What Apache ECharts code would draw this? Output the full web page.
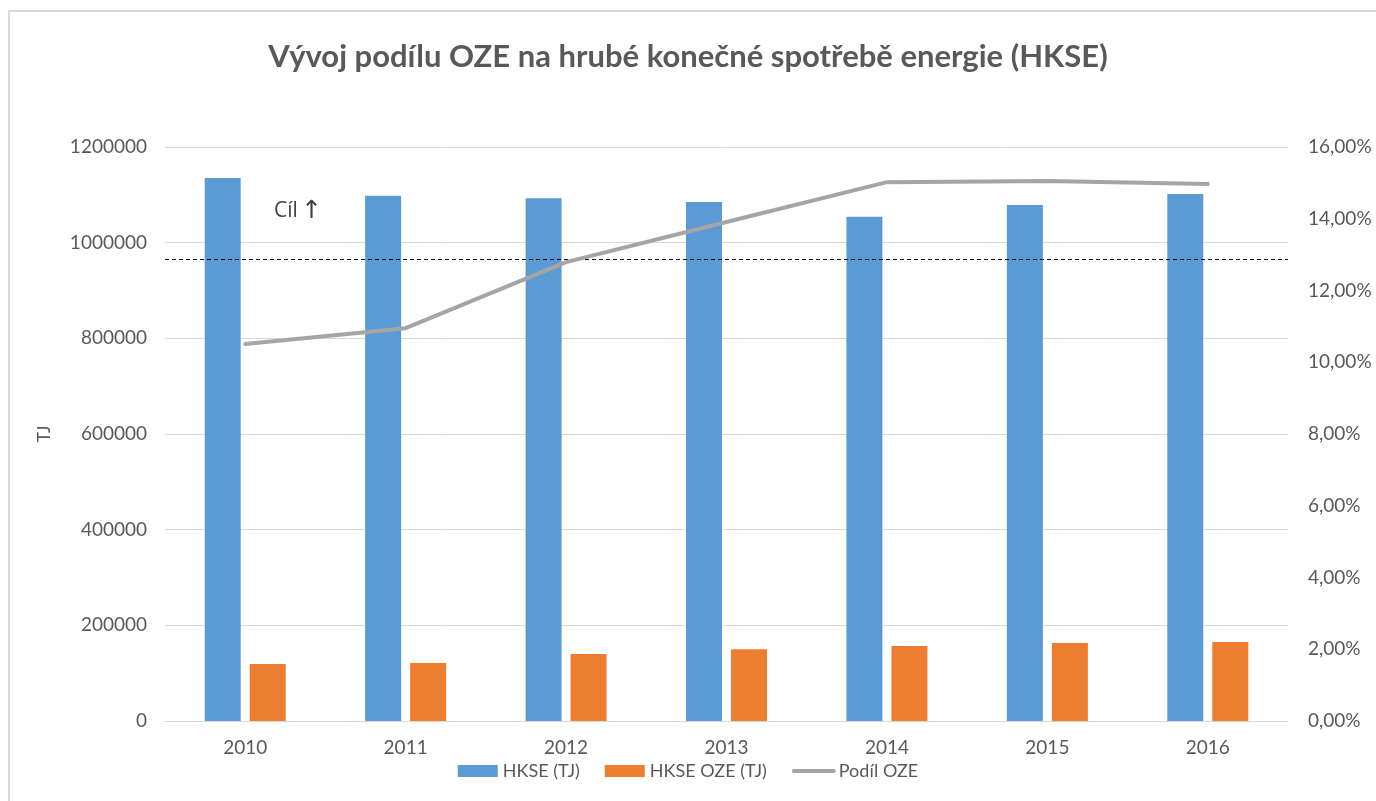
<!DOCTYPE html>
<html><head><meta charset="utf-8">
<script src="https://cdn.jsdelivr.net/npm/echarts@6/dist/echarts.min.js"></script>
<style>
html,body{margin:0;padding:0;background:#fff;}
#frame{position:absolute;left:8px;top:10px;width:1400px;height:830px;border:2px solid #d9d9d9;box-sizing:border-box;pointer-events:none;}
#c{position:absolute;left:0;top:0;width:1376px;height:801px;}
</style></head>
<body>
<div id="c"></div>
<div id="frame"></div>
<script>
var categories = ['2010','2011','2012','2013','2014','2015','2016'];
var hkse = [1135000, 1098000, 1093000, 1085000, 1054000, 1079000, 1102000];
var hkseOze = [119000, 121000, 140000, 150000, 157000, 163000, 165000];
var podilOze = [10.51, 10.95, 12.79, 13.91, 15.02, 15.05, 14.97];
var targetValue = [12.88];
var leftTicks = {min: 0, max: 1200000, interval: 200000};
var rightTicks = {min: 0, max: 16, interval: 2};

var txt = '#595959';
var chart = echarts.init(document.getElementById('c'), null, {renderer: 'canvas'});
chart.setOption({
  animation: false,
  backgroundColor: '#fff',
  textStyle: {fontFamily: 'Lato'},
  title: {
    text: 'Vývoj podílu OZE na hrubé konečné spotřebě energie (HKSE)',
    left: 'center', top: 36,
    textStyle: {fontFamily: 'Lato', fontWeight: 'bold', fontSize: 31, color: txt}
  },
  grid: {left: 165, right: 88, top: 147, bottom: 80, containLabel: false},
  legend: {
    bottom: 16, left: 'center',
    itemWidth: 40, itemHeight: 12, itemGap: 25,
    textStyle: {fontFamily: 'Lato', fontSize: 18, color: txt},
    data: [
      {name: 'HKSE (TJ)', icon: 'rect'},
      {name: 'HKSE OZE (TJ)', icon: 'rect'},
      {name: 'Podíl OZE', itemStyle: {opacity: 0}, lineStyle: {width: 4, cap: 'round'}}
    ]
  },
  xAxis: {
    type: 'category', data: categories,
    axisLine: {show: true, lineStyle: {color: '#d9d9d9'}},
    axisTick: {show: false},
    axisLabel: {color: txt, fontSize: 19, margin: 17, fontFamily: 'Lato'}
  },
  yAxis: [{
    type: 'value', min: leftTicks.min, max: leftTicks.max, interval: leftTicks.interval,
    name: 'TJ', nameLocation: 'middle', nameGap: 112,
    nameTextStyle: {color: txt, fontSize: 18, fontFamily: 'Lato'},
    axisLine: {show: false}, axisTick: {show: false},
    axisLabel: {color: txt, fontSize: 19, margin: 18, fontFamily: 'Lato',
      formatter: function(v){ return String(v); }},
    splitLine: {lineStyle: {color: '#d9d9d9', width: 1}}
  }, {
    type: 'value', min: rightTicks.min, max: rightTicks.max, interval: rightTicks.interval,
    position: 'right',
    axisLine: {show: false}, axisTick: {show: false},
    axisLabel: {color: txt, fontSize: 19, margin: 20, fontFamily: 'Lato',
      formatter: function(v){ return v.toFixed(2).replace('.', ',') + '%'; }},
    splitLine: {show: false}
  }],
  series: [{
    name: 'HKSE (TJ)', type: 'bar', data: hkse, barWidth: 36, barGap: '25%',
    itemStyle: {color: '#5b9bd5'}
  }, {
    name: 'HKSE OZE (TJ)', type: 'bar', data: hkseOze, barWidth: 36,
    itemStyle: {color: '#ed7d31'}
  }, {
    name: 'Podíl OZE', type: 'line', yAxisIndex: 1, data: podilOze,
    symbol: 'none', lineStyle: {color: '#a5a5a5', width: 4, cap: 'round'}, itemStyle: {color: '#a5a5a5'},
    z: 5,
    markLine: {
      silent: true, symbol: 'none', label: {show: false},
      lineStyle: {color: '#000', type: [4, 3], width: 1},
      data: [{yAxis: targetValue[0]}]
    }
  }],
  graphic: [{
    type: 'text', left: 274, top: 199,
    style: {
      text: '{a|Cíl} {b|↑}',
      rich: {
        a: {fontFamily: 'Open Sans', fontSize: 21, fill: '#404040', color: '#404040', verticalAlign: 'middle'},
        b: {fontFamily: 'DejaVu Sans', fontSize: 25, fill: '#404040', color: '#404040', verticalAlign: 'middle'}
      }
    }
  }]
});
</script>
</body></html>
